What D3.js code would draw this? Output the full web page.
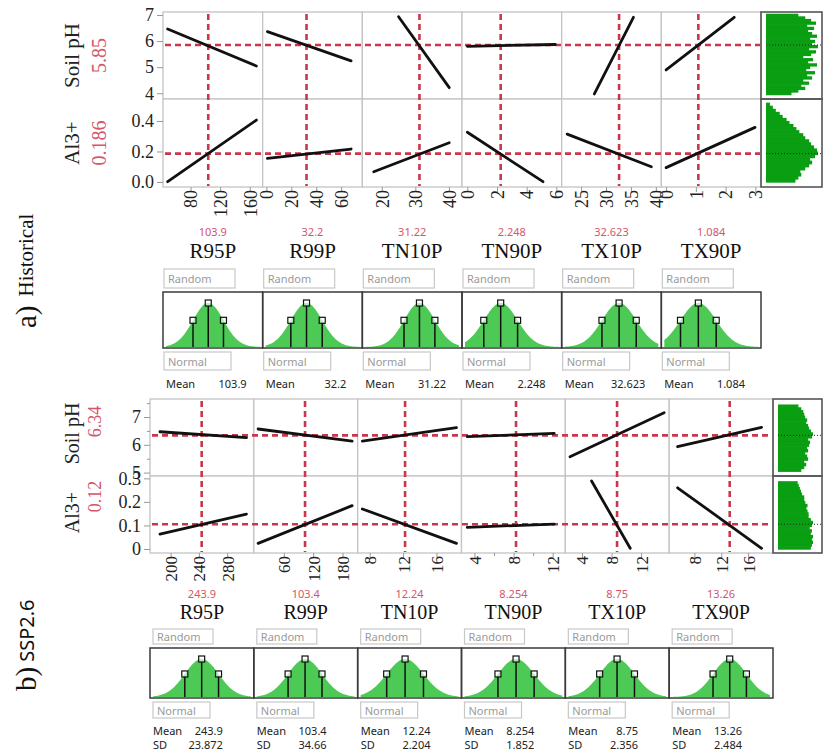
<!DOCTYPE html>
<html>
<head>
<meta charset="utf-8">
<script src="https://cdn.jsdelivr.net/npm/d3@7"></script>
<style>
  body { margin: 0; background: #fff; }
  svg { display: block; }
</style>
</head>
<body>
<script>
// ---------- data ----------
const factors = ['R95P', 'R99P', 'TN10P', 'TN90P', 'TX10P', 'TX90P'];
const responses = ['Soil pH', 'Al3+'];

// a) Historical
const histMean = [103.9, 32.2, 31.22, 2.248, 32.623, 1.084];
const histMeanText = ['103.9', '32.2', '31.22', '2.248', '32.623', '1.084'];
const histSD = [20.6, 12.6, 4.6, 1.14, 3.44, 0.6]; // not printed, read off the markers
const histXDomain = [[42.7, 177.5], [-3, 77], [14.2, 43.9], [-0.36, 6.36], [21.1, 41.1], [-0.16, 3.19]];
const histXTicks = [[80, 120, 160], [0, 20, 40, 60], [20, 30, 40], [0, 2, 4, 6], [25, 30, 35, 40], [0, 1, 2, 3]];
const histXMinor = [[], [], [], [], [], []];
const histCurrent = [5.85, 0.186];
const histCurrentText = ['5.85', '0.186'];
const histYDomain = [[3.78, 7.115], [-0.033, 0.544]];
const histYTicks = [[4, 5, 6, 7], [0, 0.2, 0.4]];
const histYTickText = [['4', '5', '6', '7'], ['0.0', '0.2', '0.4']];
const histYMinor = [[], []];
// profile lines: [x1, y1, x2, y2]
const histPH = [[49, 6.464, 169, 5.046], [0.8, 6.36, 68, 5.24], [25.0, 6.935, 40.1, 4.215],
                [0, 5.80, 5.93, 5.87], [27.66, 3.973, 35.5, 6.912], [0, 4.893, 2.29, 6.912]];
const histAl = [[49, 0.002, 169, 0.406], [0.8, 0.155, 68, 0.216], [17.6, 0.067, 40.1, 0.257],
                [0, 0.326, 5.1, 0.002], [22.2, 0.314, 39.1, 0.100], [0, 0.094, 2.99, 0.358]];
const histPHBinStart = 3.95, histPHBinStep = 0.1;
const histPHCounts = [26, 33, 40, 36, 44, 38, 47, 42, 50, 41, 45, 52, 43, 48, 38, 46,
                      51, 44, 53, 47, 50, 45, 52, 47, 43, 49, 42, 51, 46, 40, 33];
const histAlBinStart = 0, histAlBinStep = 0.02;
const histAlCounts = [30, 33, 36, 35, 40, 44, 47, 45, 50, 53, 52, 49, 46, 44, 40, 38,
                      34, 31, 28, 24, 21, 17, 14, 10, 7, 4];

// b) SSP2.6
const sspMean = [243.9, 103.4, 12.24, 8.254, 8.75, 13.26];
const sspMeanText = ['243.9', '103.4', '12.24', '8.254', '8.75', '13.26'];
const sspSD = [23.872, 34.66, 2.204, 1.852, 2.356, 2.484];
const sspSDText = ['23.872', '34.66', '2.204', '1.852', '2.356', '2.484'];
const sspXDomain = [[170.8, 317.7], [-1.3, 211], [6.56, 19], [2.67, 13.3], [1.75, 15.8], [4.25, 19.7]];
const sspXTicks = [[200, 240, 280], [60, 120, 180], [8, 12, 16], [4, 8, 12], [4, 8, 12], [8, 12, 16]];
const sspXMinor = [[], [], [], [6, 10], [], []];
const sspCurrent = [6.34, 0.105];
const sspCurrentText = ['6.34', '0.12'];
const sspYDomain = [[4.878, 7.647], [-0.017, 0.31]];
const sspYTicks = [[5, 6, 7], [0, 0.1, 0.2, 0.3]];
const sspYTickText = [['5', '6', '7'], ['0', '0.1', '0.2', '0.3']];
const sspYMinor = [[5.5, 6.5, 7.5], []];
const sspPH = [[184.9, 6.47, 307.3, 6.255], [7.4, 6.568, 199.7, 6.136], [7.12, 6.136, 18.4, 6.615],
               [3.26, 6.291, 12.16, 6.413], [2.38, 5.572, 15.12, 7.154], [5.5, 5.931, 18, 6.629]];
const sspAl = [[184.9, 0.063, 307.3, 0.148], [7.4, 0.024, 199.7, 0.184], [7.12, 0.170, 18.4, 0.024],
               [3.26, 0.092, 12.16, 0.106], [5.3, 0.289, 10.53, 0.003], [5.5, 0.260, 18, 0.003]];
const sspPHBinStart = 5.05, sspPHBinStep = 0.1;
const sspPHCounts = [24, 27, 29, 27, 31, 30, 28, 31, 30, 32, 33, 31, 35, 36, 34, 32,
                     31, 29, 30, 28, 27, 26, 24, 21];
const sspAlBinStart = 0, sspAlBinStep = 0.012;
const sspAlCounts = [30, 31, 32, 31, 32, 30, 31, 29, 31, 32, 30, 28, 28, 27, 26, 27,
                     25, 24, 24, 22, 21, 20, 19, 18];

// ---------- drawing ----------
const W = 823, H = 752;
const serif = '"Liberation Serif", "Times New Roman", serif';
const sans = '"Noto Sans", "Open Sans", sans-serif';
const RED = '#c8374b', RED_TXT = '#d4566a', GRID = '#c4c4c4';
const GREEN_CURVE = '#4cca55', GREEN_HIST = '#0a9e12';

const svg = d3.select('body').append('svg').attr('width', W).attr('height', H);

function drawPanel(p) {
  const g = svg.append('g');
  const band = d3.scaleBand().domain(factors).range([p.left, p.right]);
  const bw = band.bandwidth();
  const rowTop = [p.top, p.mid], rowBot = [p.mid, p.bottom];
  const yScales = responses.map((r, j) =>
    d3.scaleLinear().domain(p.yDomain[j]).range([rowBot[j], rowTop[j]]));
  const xScales = factors.map((f, i) =>
    d3.scaleLinear().domain(p.xDomain[i]).range([band(f), band(f) + bw]));

  // cells
  responses.forEach((r, j) => {
    g.selectAll(null).data(factors).join('rect')
      .attr('x', f => band(f)).attr('y', rowTop[j])
      .attr('width', bw).attr('height', rowBot[j] - rowTop[j])
      .attr('fill', '#fff').attr('stroke', GRID).attr('stroke-width', 1.3);
  });

  // red dashed reference lines
  g.selectAll(null).data(factors).join('line')
    .attr('x1', (f, i) => xScales[i](p.mean[i])).attr('x2', (f, i) => xScales[i](p.mean[i]))
    .attr('y1', p.top + 2).attr('y2', p.bottom - 1)
    .attr('stroke', RED).attr('stroke-width', 2.6).attr('stroke-dasharray', '6,4');
  g.selectAll(null).data(responses).join('line')
    .attr('x1', p.left + 2).attr('x2', p.right - 1)
    .attr('y1', (r, j) => yScales[j](p.current[j])).attr('y2', (r, j) => yScales[j](p.current[j]))
    .attr('stroke', RED).attr('stroke-width', 2.6).attr('stroke-dasharray', '6,4');

  // profile lines
  [p.lines0, p.lines1].forEach((set, j) => {
    g.selectAll(null).data(set).join('line')
      .attr('x1', (d, i) => xScales[i](d[0])).attr('y1', d => yScales[j](d[1]))
      .attr('x2', (d, i) => xScales[i](d[2])).attr('y2', d => yScales[j](d[3]))
      .attr('stroke', '#111').attr('stroke-width', 2.8).attr('stroke-linecap', 'round');
  });

  // y axes
  responses.forEach((r, j) => {
    const ax = g.append('g').attr('transform', `translate(${p.left},0)`)
      .call(d3.axisLeft(yScales[j]).tickValues(p.yTicks[j])
        .tickFormat((d, k) => p.yTickText[j][k]).tickSize(6).tickPadding(3));
    ax.select('.domain').remove();
    ax.selectAll('line').attr('stroke', '#999');
    ax.selectAll('text').attr('font-family', serif).attr('font-size', p.yTickFont).attr('fill', '#222');
    const mn = g.append('g').attr('transform', `translate(${p.left},0)`)
      .call(d3.axisLeft(yScales[j]).tickValues(p.yMinor[j]).tickFormat('').tickSize(3));
    mn.select('.domain').remove();
    mn.selectAll('line').attr('stroke', '#999');
  });

  // x axes
  factors.forEach((f, i) => {
    const ax = g.append('g').attr('transform', `translate(0,${p.bottom})`)
      .call(d3.axisBottom(xScales[i]).tickValues(p.xTicks[i])
        .tickFormat(d3.format('~g')).tickSize(5));
    ax.select('.domain').remove();
    ax.selectAll('line').attr('stroke', '#999');
    ax.selectAll('text')
      .attr('font-family', serif).attr('font-size', p.xTickFont).attr('fill', '#222')
      .attr('transform', 'rotate(-90)').attr('text-anchor', 'end')
      .attr('x', -3).attr('y', 0).attr('dy', '0.35em');
    const mn = g.append('g').attr('transform', `translate(0,${p.bottom})`)
      .call(d3.axisBottom(xScales[i]).tickValues(p.xMinor[i]).tickFormat('').tickSize(3));
    mn.select('.domain').remove();
    mn.selectAll('line').attr('stroke', '#999');
  });

  // response labels
  responses.forEach((r, j) => {
    const cy = (rowTop[j] + rowBot[j]) / 2;
    g.append('text')
      .attr('transform', `translate(${p.nameX},${cy + p.nameDy[j]}) rotate(-90)`)
      .attr('text-anchor', 'middle').attr('dominant-baseline', 'central')
      .attr('font-family', serif).attr('font-size', p.nameFont).attr('fill', '#222').text(r);
    g.append('text')
      .attr('transform', `translate(${p.valX},${cy + p.valDy[j]}) rotate(-90)`)
      .attr('text-anchor', 'middle').attr('dominant-baseline', 'central')
      .attr('font-family', serif).attr('font-size', p.valFont).attr('fill', RED_TXT)
      .text(p.currentText[j]);
  });

  // side histograms
  const bins = [
    { start: p.phStart, step: p.phStep, counts: p.phCounts },
    { start: p.alStart, step: p.alStep, counts: p.alCounts }
  ];
  bins.forEach((b, j) => {
    const hx = d3.scaleLinear().domain([0, d3.max(b.counts)]).range([0, p.histLen]);
    const x0 = p.right + 5;
    g.selectAll(null).data(b.counts).join('rect')
      .attr('x', x0)
      .attr('y', (c, k) => yScales[j](b.start + (k + 1) * b.step))
      .attr('height', (c, k) => yScales[j](b.start + k * b.step) - yScales[j](b.start + (k + 1) * b.step) + 0.7)
      .attr('width', c => hx(c))
      .attr('fill', GREEN_HIST);
    g.append('line')
      .attr('x1', x0).attr('x2', p.histRight - 1)
      .attr('y1', yScales[j](p.current[j])).attr('y2', yScales[j](p.current[j]))
      .attr('stroke', '#222').attr('stroke-width', 1).attr('stroke-dasharray', '1,2');
    g.append('rect')
      .attr('x', p.right).attr('y', rowTop[j])
      .attr('width', p.histRight - p.right).attr('height', rowBot[j] - rowTop[j])
      .attr('fill', 'none').attr('stroke', '#555').attr('stroke-width', 1.6);
  });

  // factor labels
  g.selectAll(null).data(factors).join('text')
    .attr('x', f => band(f) + bw / 2).attr('y', p.meanLabelY)
    .attr('text-anchor', 'middle').attr('font-family', sans).attr('font-size', 11)
    .attr('fill', RED_TXT).text((f, i) => p.meanText[i]);
  g.selectAll(null).data(factors).join('text')
    .attr('x', f => band(f) + bw / 2).attr('y', p.titleY)
    .attr('text-anchor', 'middle').attr('font-family', serif).attr('font-size', p.titleFont)
    .attr('fill', '#111').text(f => f);

  // input boxes
  const boxes = [
    { y: p.randomY, h: p.randomH, w: p.randomW, label: 'Random' },
    { y: p.normalY, h: p.normalH, w: p.normalW, label: 'Normal' }
  ];
  boxes.forEach(b => {
    g.selectAll(null).data(factors).join('rect')
      .attr('x', f => band(f) + p.boxDx).attr('y', b.y)
      .attr('width', b.w).attr('height', b.h)
      .attr('fill', '#fff').attr('stroke', '#c8c8c8').attr('stroke-width', 1.2);
    g.selectAll(null).data(factors).join('text')
      .attr('x', f => band(f) + p.boxDx + 4).attr('y', b.y + b.h / 2)
      .attr('dominant-baseline', 'central')
      .attr('font-family', sans).attr('font-size', 11).attr('fill', '#9a9a9a').text(b.label);
  });

  // distribution cells
  const base = p.distY + p.distH - 1;
  const peak = p.distH - 12;
  factors.forEach((f, i) => {
    const xs = xScales[i];
    const m = p.mean[i], s = p.sd[i];
    const dens = v => base - peak * Math.exp(-0.5 * ((v - m) / s) ** 2);
    const lo = xs.invert(band(f) + 3), hi = xs.invert(band(f) + bw - 3);
    const pts = d3.range(lo, hi, (hi - lo) / 120).concat([hi]);
    g.append('path').datum(pts)
      .attr('d', d3.area().x(v => xs(v)).y0(base).y1(v => dens(v)))
      .attr('fill', GREEN_CURVE);
    const marks = [m - s, m, m + s];
    g.selectAll(null).data(marks).join('line')
      .attr('x1', v => xs(v)).attr('x2', v => xs(v))
      .attr('y1', base).attr('y2', v => dens(v) + 3)
      .attr('stroke', '#111').attr('stroke-width', 1.5);
    g.selectAll(null).data(marks).join('rect')
      .attr('x', v => xs(v) - 3).attr('y', v => dens(v) - 3)
      .attr('width', 6).attr('height', 6)
      .attr('fill', '#fff').attr('fill-opacity', 0.6).attr('stroke', '#111').attr('stroke-width', 1.2);
  });
  g.selectAll(null).data(factors).join('rect')
    .attr('x', f => band(f)).attr('y', p.distY)
    .attr('width', bw).attr('height', p.distH)
    .attr('fill', 'none').attr('stroke', '#3a3a3a').attr('stroke-width', 1.5);

  // parameters
  const rows = [{ y: p.meanY, name: 'Mean', vals: p.meanText }];
  if (p.sdText) rows.push({ y: p.sdY, name: 'SD', vals: p.sdText });
  rows.forEach(r => {
    g.selectAll(null).data(factors).join('text')
      .attr('x', f => band(f) + 3).attr('y', r.y)
      .attr('font-family', sans).attr('font-size', 11).attr('fill', '#222').text(r.name);
    g.selectAll(null).data(factors).join('text')
      .attr('x', f => band(f) + bw - p.valRight).attr('y', r.y)
      .attr('text-anchor', 'end')
      .attr('font-family', sans).attr('font-size', 11).attr('fill', '#222')
      .text((f, i) => r.vals[i]);
  });

  // panel tag, read bottom to top
  const tag = g.append('text')
    .attr('transform', `translate(26,${p.tagY}) rotate(-90)`)
    .attr('dominant-baseline', 'central').attr('fill', '#111');
  tag.append('tspan').attr('font-family', serif).attr('font-size', 29).text(p.tagLetter);
  tag.append('tspan').attr('dx', p.tagGap).attr('font-family', p.tagFontFamily)
    .attr('font-size', p.tagFont).text(p.tagName);
}

drawPanel({
  left: 163, right: 761, histRight: 822, top: 12, mid: 99, bottom: 187, histLen: 52,
  xDomain: histXDomain, xTicks: histXTicks, xMinor: histXMinor, yDomain: histYDomain,
  yTicks: histYTicks, yTickText: histYTickText, yMinor: histYMinor,
  mean: histMean, meanText: histMeanText, sd: histSD, sdText: null,
  current: histCurrent, currentText: histCurrentText, lines0: histPH, lines1: histAl,
  phStart: histPHBinStart, phStep: histPHBinStep, phCounts: histPHCounts,
  alStart: histAlBinStart, alStep: histAlBinStep, alCounts: histAlCounts,
  yTickFont: 18, xTickFont: 18,
  nameX: 72, valX: 99, nameFont: 21, valFont: 20, nameDy: [0, 0], valDy: [0, 0],
  meanLabelY: 236, titleY: 258, titleFont: 21,
  randomY: 269, randomH: 19, randomW: 71, normalY: 352, normalH: 18, normalW: 67, boxDx: 1,
  distY: 292, distH: 56, meanY: 388, sdY: null, valRight: 16,
  tagY: 328, tagGap: 9, tagLetter: 'a)', tagName: 'Historical', tagFontFamily: serif, tagFont: 21
});

drawPanel({
  left: 150, right: 773, histRight: 822, top: 399, mid: 476, bottom: 553, histLen: 35,
  xDomain: sspXDomain, xTicks: sspXTicks, xMinor: sspXMinor, yDomain: sspYDomain,
  yTicks: sspYTicks, yTickText: sspYTickText, yMinor: sspYMinor,
  mean: sspMean, meanText: sspMeanText, sd: sspSD, sdText: sspSDText,
  current: sspCurrent, currentText: sspCurrentText, lines0: sspPH, lines1: sspAl,
  phStart: sspPHBinStart, phStep: sspPHBinStep, phCounts: sspPHCounts,
  alStart: sspAlBinStart, alStep: sspAlBinStep, alCounts: sspAlCounts,
  yTickFont: 18, xTickFont: 17,
  nameX: 72, valX: 95, nameFont: 20, valFont: 18, nameDy: [-4, -2], valDy: [-16, -18],
  meanLabelY: 598, titleY: 619, titleFont: 20,
  randomY: 629, randomH: 15, randomW: 60, normalY: 702, normalH: 16, normalW: 57, boxDx: 3,
  distY: 648, distH: 50, meanY: 735, sdY: 749, valRight: 31,
  tagY: 691, tagGap: 5, tagLetter: 'b)', tagName: 'SSP2.6', tagFontFamily: sans, tagFont: 20
});
</script>
</body>
</html>
